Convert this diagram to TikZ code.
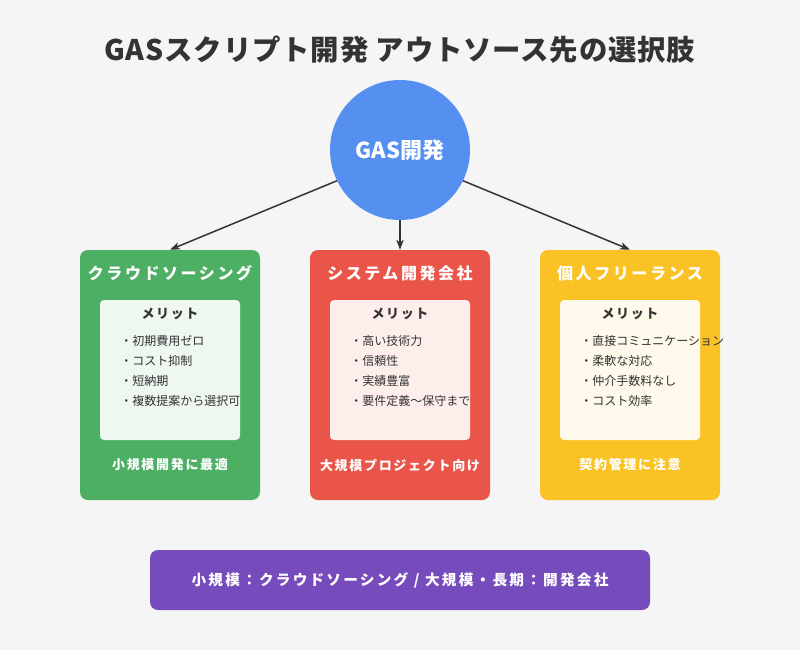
\documentclass[tikz,border=0pt]{standalone}
\usepackage{fontspec}
\setmainfont{Noto Sans CJK JP}
\newfontfamily\tfont{Noto Sans CJK JP}[LetterSpace=3]
\newfontfamily\hfont{Noto Sans CJK JP}[LetterSpace=16]
\newfontfamily\mfont{Noto Sans CJK JP}[LetterSpace=12]
\newfontfamily\ffont{Noto Sans CJK JP}[LetterSpace=13]
\newfontfamily\bfont{Noto Sans CJK JP}[LetterSpace=15]
\usetikzlibrary{arrows.meta}
\definecolor{bg}{HTML}{F5F5F5}
\definecolor{txt}{HTML}{333333}
\definecolor{cblue}{HTML}{5590F0}
\definecolor{cgreen}{HTML}{4CAF64}
\definecolor{cred}{HTML}{EA554A}
\definecolor{cyellow}{HTML}{FBC226}
\definecolor{cpurple}{HTML}{764BBC}
\definecolor{lgreen}{HTML}{EEF7F0}
\definecolor{lred}{HTML}{FDEEEC}
\definecolor{lyellow}{HTML}{FEF9EA}
\begin{document}
\begin{tikzpicture}[x=0.75pt,y=-0.75pt,
  outerbox/.style={rectangle,rounded corners=6pt,minimum width=135pt,minimum height=187.5pt,inner sep=0pt},
  innerbox/.style={rectangle,rounded corners=3pt,minimum width=105pt,minimum height=105pt,inner sep=0pt},
  headtxt/.style={text=white,font=\hfont\bfseries\fontsize{12pt}{14pt}\selectfont,inner sep=0pt},
  merittxt/.style={text=txt,font=\mfont\bfseries\fontsize{9.75pt}{12pt}\selectfont,inner sep=0pt},
  itemtxt/.style={text=txt,font=\fontsize{9pt}{11pt}\selectfont,inner sep=0pt,anchor=west},
  foottxt/.style={text=white,font=\ffont\bfseries\fontsize{9.75pt}{12pt}\selectfont,inner sep=0pt},
  conn/.style={draw=txt,line width=1.5pt*0.75,-{Stealth[length=7.5pt,width=5.5pt,inset=2pt]}}]
\fill[bg] (0,0) rectangle (800,650);
\useasboundingbox (0,0) rectangle (800,650);
\node[text=txt,font=\tfont\bfseries\fontsize{21.3pt}{25pt}\selectfont] (title) at (400,50) {GASスクリプト開発 アウトソース先の選択肢};
\node[circle,fill=cblue,minimum size=105pt,inner sep=0pt,text=white,font=\bfseries\fontsize{16.5pt}{20pt}\selectfont] (g) at (400,150) {GAS開発};
% boxes
\node[outerbox,fill=cgreen] (b1) at (170,375) {};
\node[outerbox,fill=cred] (b2) at (400,375) {};
\node[outerbox,fill=cyellow] (b3) at (630,375) {};
\node[innerbox,fill=lgreen] (i1) at (170,370) {};
\node[innerbox,fill=lred] (i2) at (400,370) {};
\node[innerbox,fill=lyellow] (i3) at (630,370) {};
% headings
\node[headtxt] (h1) at (170,273) {クラウドソーシング};
\node[headtxt] (h2) at (400,273) {システム開発会社};
\node[headtxt] (h3) at (630,273) {個人フリーランス};
\node[merittxt] (m1) at (170,314) {メリット};
\node[merittxt] (m2) at (400,314) {メリット};
\node[merittxt] (m3) at (630,314) {メリット};
% items
\node[itemtxt] (a1) at (120,341) {・初期費用ゼロ};
\node[itemtxt] (a2) at (120,361) {・コスト抑制};
\node[itemtxt] (a3) at (120,381) {・短納期};
\node[itemtxt] (a4) at (120,401) {・複数提案から選択可};
\node[itemtxt] (c1) at (350,341) {・高い技術力};
\node[itemtxt] (c2) at (350,361) {・信頼性};
\node[itemtxt] (c3) at (350,381) {・実績豊富};
\node[itemtxt] (c4) at (350,401) {・要件定義～保守まで};
\node[itemtxt] (d1) at (580,341) {・直接コミュニケーション};
\node[itemtxt] (d2) at (580,361) {・柔軟な対応};
\node[itemtxt] (d3) at (580,381) {・仲介手数料なし};
\node[itemtxt] (d4) at (580,401) {・コスト効率};
% footers
\node[foottxt] (f1) at (170,465) {小規模開発に最適};
\node[foottxt] (f2) at (400,465) {大規模プロジェクト向け};
\node[foottxt] (f3) at (630,465) {契約管理に注意};
% bottom
\node[rectangle,rounded corners=6pt,fill=cpurple,minimum width=375pt,minimum height=45pt,inner sep=0pt,text=white,font=\bfont\bfseries\fontsize{11pt}{13pt}\selectfont] (sum) at (400,580) {小規模：クラウドソーシング / 大規模・長期：開発会社};
% connectors
\draw[conn] (g.206.6) -- (b1.north);
\draw[conn] (g.south) -- (b2.north);
\draw[conn] (g.-26.6) -- (b3.north);
\end{tikzpicture}
\end{document}
